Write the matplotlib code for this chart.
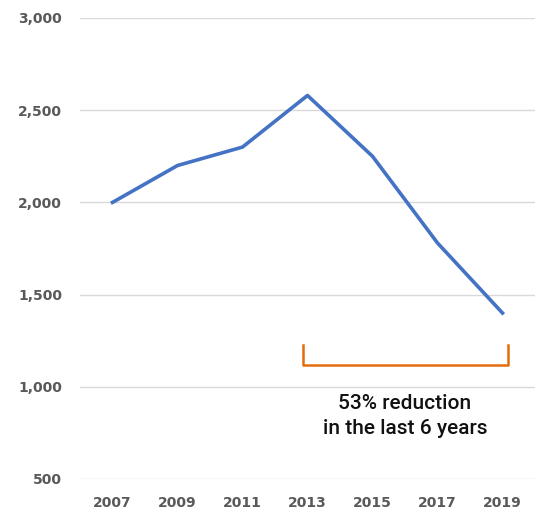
import numpy as np
import matplotlib.pyplot as plt

years = ['2007', '2009', '2011', '2013', '2015', '2017', '2019']
values = [2000, 2200, 2300, 2580, 2250, 1780, 1400]
y_ticks = [500, 1000, 1500, 2000, 2500, 3000]

fig = plt.figure(figsize=(5.38, 5.12), dpi=100)
ax = fig.add_axes([80 / 538, 33 / 512, 455 / 538, 461 / 512])

x = np.arange(len(years))
ax.plot(x, values, color='#4472C4', lw=2.6, zorder=3)

ax.set_xlim(-0.5, len(years) - 0.5)
ax.set_ylim(500, 3000)
ax.set_yticks(y_ticks)
ax.set_yticklabels([f'{v:,}' for v in y_ticks])
ax.set_xticks(x)
ax.set_xticklabels(years)

for v in y_ticks:
    ax.axhline(v, color='#D9D9D9', lw=1, zorder=1)

for s in ax.spines.values():
    s.set_visible(False)
ax.tick_params(length=0, labelsize=10, labelcolor='#595959', pad=12)
ax.tick_params(axis='y', pad=13)
for lab in ax.get_xticklabels() + ax.get_yticklabels():
    lab.set_fontweight('bold')

# bracket showing the drop since 2013
bx0, bx1 = 2.93, 6.08
ax.plot([bx0, bx0, bx1, bx1], [1225, 1120, 1120, 1225], color='#E46C0A',
        lw=1.8, clip_on=False, zorder=3)
ax.text(4.5, 842, '53% reduction\nin the last 6 years', ha='center', va='center',
        fontsize=15, fontweight='medium', family='Roboto', color='#111111',
        linespacing=1.45)

fig.savefig('out.png', dpi=100)
